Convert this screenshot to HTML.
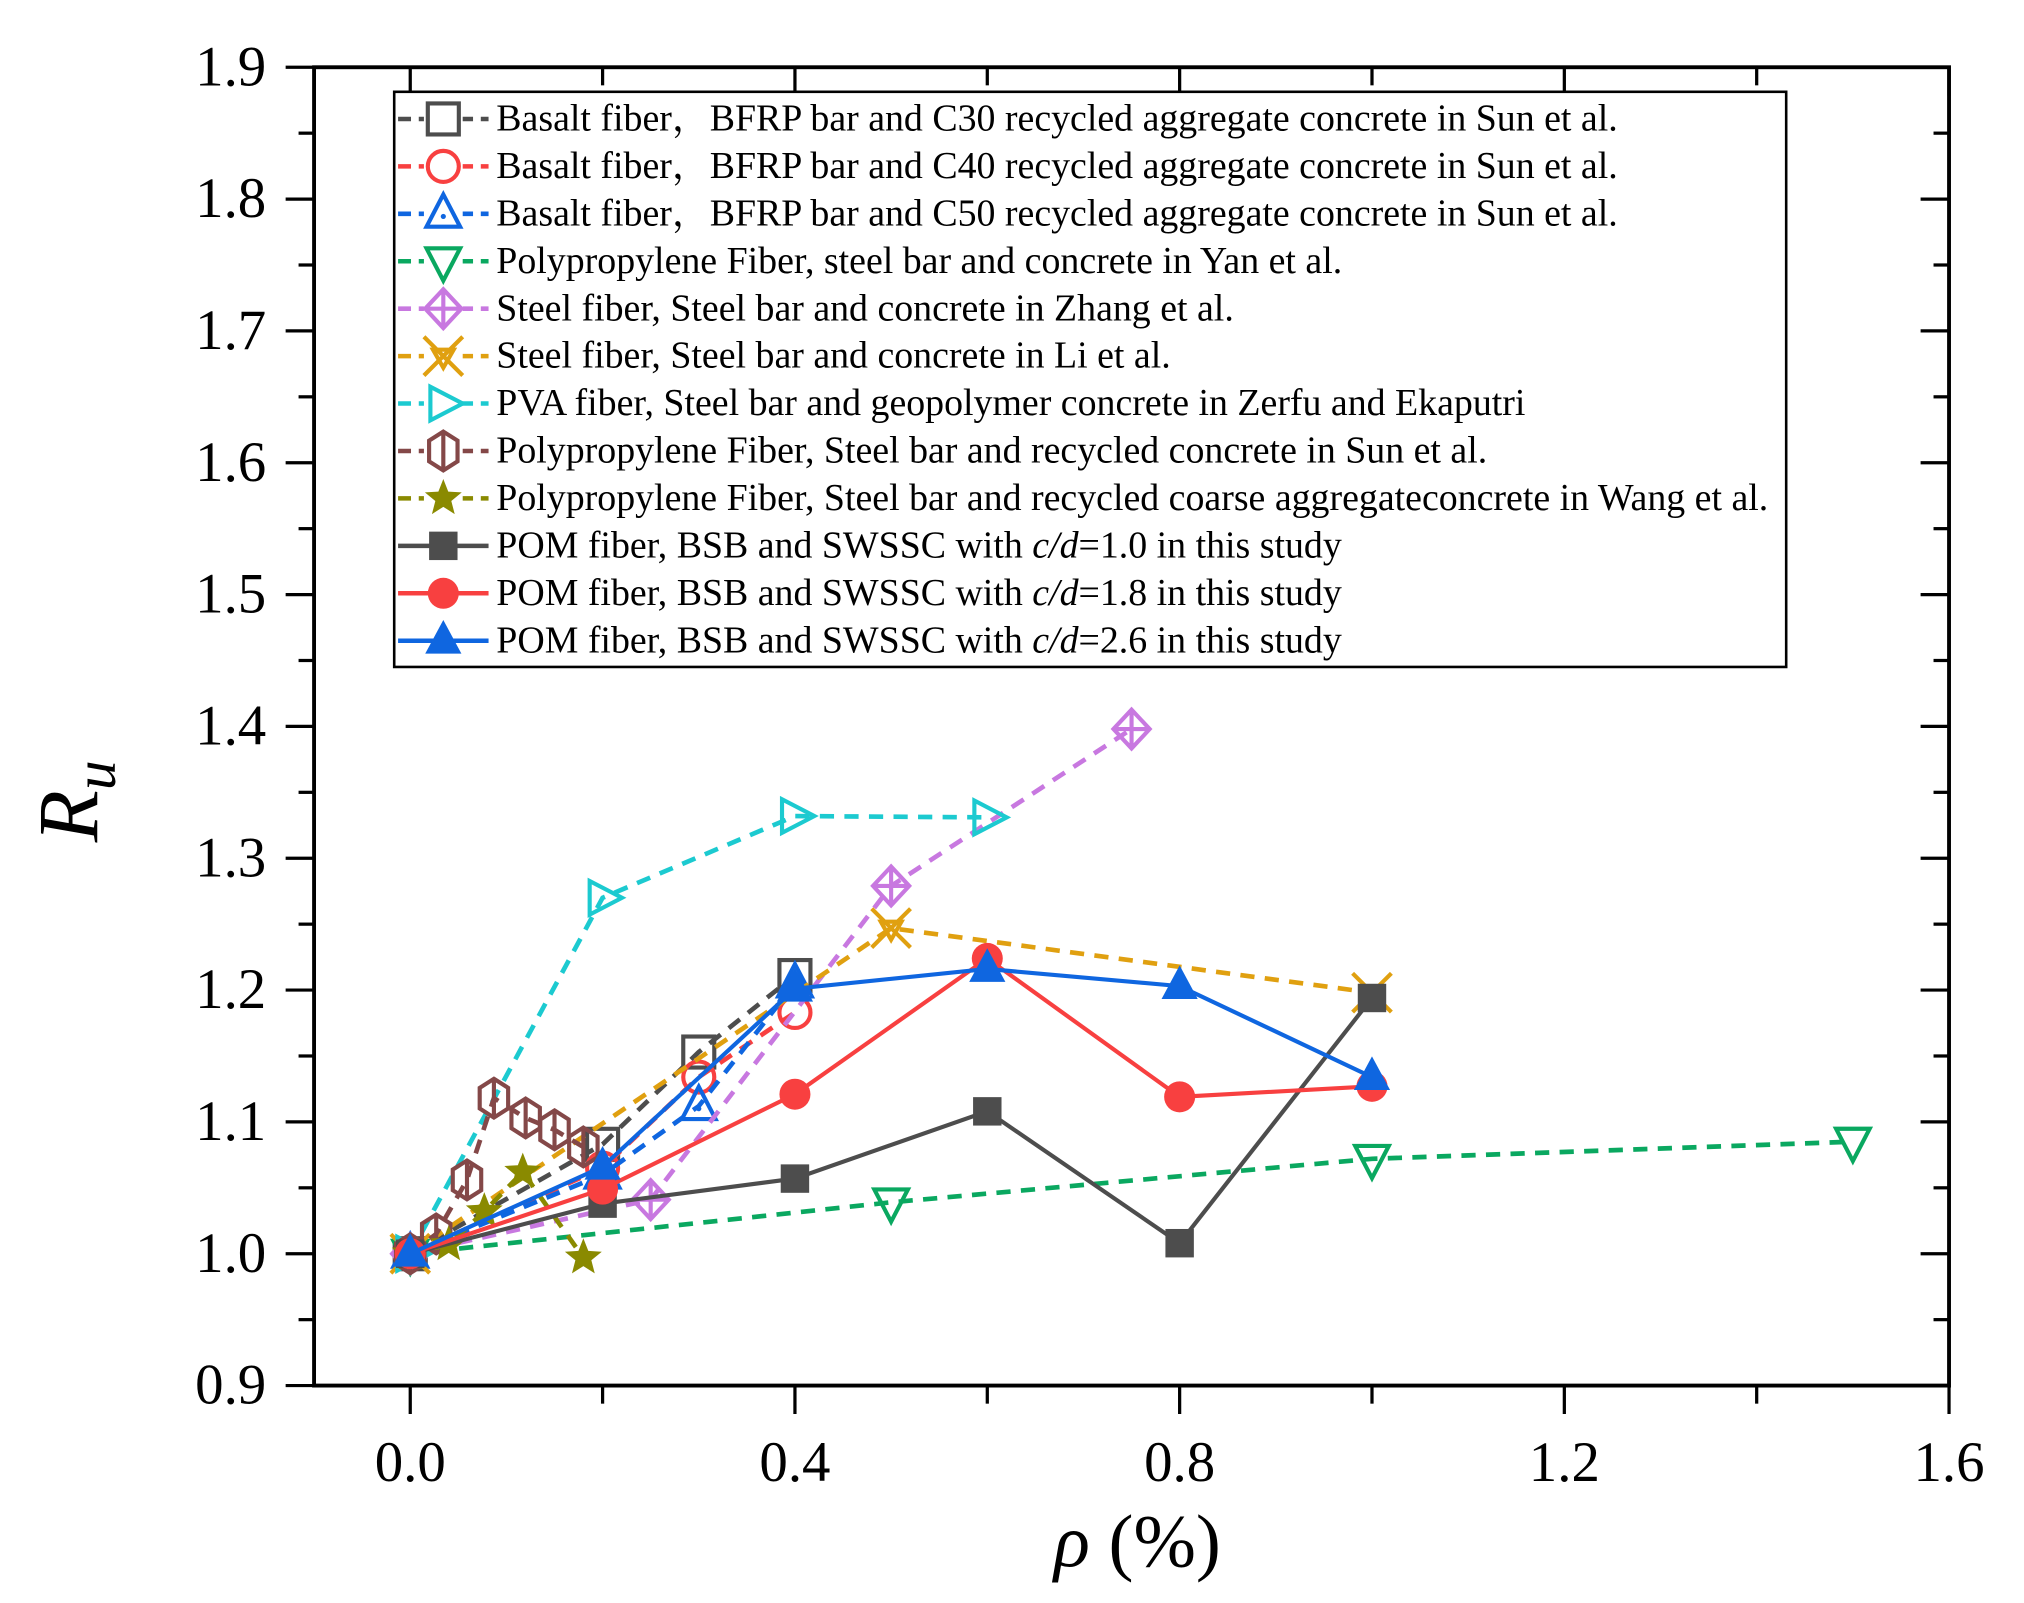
<!DOCTYPE html>
<html><head><meta charset="utf-8"><style>
html,body{margin:0;padding:0;background:#fff;}
svg{display:block;font-family:"Liberation Serif","Noto Serif CJK SC",serif;}
</style></head><body>
<svg id="chart" width="2024" height="1603" viewBox="0 0 1566 1240.2">
<g id="axes"></g>
<g id="plot"></g>
<g id="legend"></g>
<text x="75" y="620" font-size="66" font-style="italic" text-anchor="middle" transform="rotate(-90 75 620)">R<tspan font-size="46" dy="14">u</tspan></text>
<text x="880" y="1212" font-size="58" text-anchor="middle"><tspan font-style="italic">ρ</tspan> (%)</text>
</svg>
<script>
const xTicks=[0.0,0.4,0.8,1.2,1.6];
const yTicks=[0.9,1.0,1.1,1.2,1.3,1.4,1.5,1.6,1.7,1.8,1.9];
const names=["Basalt fiber，BFRP bar and C30 recycled aggregate concrete in Sun et al.","Basalt fiber，BFRP bar and C40 recycled aggregate concrete in Sun et al.","Basalt fiber，BFRP bar and C50 recycled aggregate concrete in Sun et al.","Polypropylene Fiber, steel bar and concrete in Yan et al.","Steel fiber, Steel bar and concrete in Zhang et al.","Steel fiber, Steel bar and concrete in Li et al.","PVA fiber, Steel bar and geopolymer concrete in Zerfu and Ekaputri","Polypropylene Fiber, Steel bar and recycled concrete in Sun et al.","Polypropylene Fiber, Steel bar and recycled  coarse aggregateconcrete in Wang et al.","POM fiber, BSB and SWSSC with c/d=1.0 in this study","POM fiber, BSB and SWSSC with c/d=1.8 in this study","POM fiber, BSB and SWSSC with c/d=2.6 in this study"];
const c30X=[0,0.2,0.3,0.4], c30Y=[1.0,1.083,1.153,1.211];
const c40X=[0,0.2,0.3,0.4], c40Y=[1.0,1.065,1.134,1.183];
const c50X=[0,0.2,0.3,0.4], c50Y=[1.0,1.06,1.112,1.205];
const yanX=[0,0.5,1.0,1.5], yanY=[1.0,1.039,1.072,1.085];
const zhangX=[0,0.25,0.5,0.75], zhangY=[1.0,1.041,1.279,1.398];
const liX=[0,0.5,1.0], liY=[1.0,1.247,1.198];
const pvaX=[0,0.2,0.4,0.6], pvaY=[1.0,1.27,1.332,1.331];
const sunX=[0,0.027,0.059,0.087,0.12,0.15,0.18], sunY=[1.0,1.015,1.056,1.118,1.103,1.094,1.081];
const wangX=[0,0.04,0.077,0.117,0.18], wangY=[1.0,1.007,1.032,1.062,0.997];
const pom10X=[0,0.2,0.4,0.6,0.8,1.0], pom10Y=[1.0,1.038,1.057,1.108,1.008,1.194];
const pom18X=[0,0.2,0.4,0.6,0.8,1.0], pom18Y=[1.0,1.049,1.121,1.224,1.119,1.127];
const pom26X=[0,0.2,0.4,0.6,0.8,1.0], pom26Y=[1.0,1.066,1.201,1.216,1.203,1.134];

const L=243,R=1508,T=52,B=1072,X0=-0.1,X1=1.6,Y0=0.9,Y1=1.9;
const sx=v=>L+(v-X0)/(X1-X0)*(R-L);
const sy=v=>B-(v-Y0)/(Y1-Y0)*(B-T);
const NS="http://www.w3.org/2000/svg";
function mk(tag,attrs,parent){const e=document.createElementNS(NS,tag);for(const k in attrs)e.setAttribute(k,attrs[k]);parent.appendChild(e);return e;}
const axes=document.getElementById('axes'),plot=document.getElementById('plot'),leg=document.getElementById('legend');
let fr=mk('rect',{x:L,y:T,width:R-L,height:B-T,fill:'none',stroke:'#000','stroke-width':3},axes);


for(let i=0;i<=8;i++){const v=i*0.2,x=sx(v),maj=i%2==0;
 let t=mk('line',{x1:x,x2:x,y1:B,y2:B+(maj?22:14),stroke:'#000','stroke-width':2.5},axes);
 
 let t2=mk('line',{x1:x,x2:x,y1:T,y2:T+(maj?22:14),stroke:'#000','stroke-width':2.5},axes);
 }
xTicks.forEach(v=>{let t=mk('text',{x:sx(v),y:1146,'font-size':44,'text-anchor':'middle'},axes);t.textContent=v.toFixed(1);
 });
for(let i=0;i<=20;i++){const v=0.9+i*0.05,y=sy(v),maj=i%2==0;
 let t=mk('line',{x1:L-(maj?22:12),x2:L,y1:y,y2:y,stroke:'#000','stroke-width':2.5},axes);
 
 let t2=mk('line',{x1:R-(maj?22:12),x2:R,y1:y,y2:y,stroke:'#000','stroke-width':2.5},axes);
 }
yTicks.forEach(v=>{let t=mk('text',{x:206,y:sy(v)+14,'font-size':44,'text-anchor':'end'},axes);t.textContent=v.toFixed(1);
 });

function marker(type,x,y,col,g){const s=13;let e;const w=3.2;
 switch(type){
 case 'sq':e=mk('rect',{x:x-s+1,y:y-s+1,width:2*s-2,height:2*s-2,fill:'none',stroke:col,'stroke-width':w},g);break;
 case 'sqf':e=mk('rect',{x:x-11,y:y-11,width:22,height:22,fill:col},g);break;
 case 'ci':e=mk('circle',{cx:x,cy:y,r:s-1,fill:'none',stroke:col,'stroke-width':w},g);break;
 case 'cif':e=mk('circle',{cx:x,cy:y,r:12,fill:col},g);break;
 case 'tri':e=mk('path',{d:`M${x},${y-15}L${x+13},${y+10}L${x-13},${y+10}Z`,fill:'none',stroke:col,'stroke-width':w},g);mk('circle',{cx:x,cy:y+2,r:2,fill:col},g);break;
 case 'trif':e=mk('path',{d:`M${x},${y-16}L${x+14},${y+10}L${x-14},${y+10}Z`,fill:col},g);break;
 case 'dtri':e=mk('path',{d:`M${x},${y+15}L${x+13},${y-10}L${x-13},${y-10}Z`,fill:'none',stroke:col,'stroke-width':w},g);break;
 case 'rtri':e=mk('path',{d:`M${x+15},${y}L${x-10},${y+13}L${x-10},${y-13}Z`,fill:'none',stroke:col,'stroke-width':w},g);break;
 case 'dia':e=mk('path',{d:`M${x},${y-15}L${x+14},${y}L${x},${y+15}L${x-14},${y}ZM${x},${y-15}V${y+15}M${x-14},${y}H${x+14}`,fill:'none',stroke:col,'stroke-width':w},g);break;
 case 'x':e=mk('path',{d:`M${x-15},${y-15}L${x+15},${y+15}M${x+15},${y-15}L${x-15},${y+15}M${x-8},${y-5}L${x+8},${y-5}L${x},${y+9}Z`,fill:'none',stroke:col,'stroke-width':w},g);break;
 case 'hex':e=mk('path',{d:`M${x},${y-15}L${x+11},${y-8}L${x+11},${y+8}L${x},${y+15}L${x-11},${y+8}L${x-11},${y-8}ZM${x},${y-15}V${y+15}`,fill:'none',stroke:col,'stroke-width':w},g);break;
 case 'star':{let p='';for(let k=0;k<10;k++){const a=-Math.PI/2+k*Math.PI/5,r=k%2?6.5:15;p+=(k?'L':'M')+(x+r*Math.cos(a))+','+(y+r*Math.sin(a));}e=mk('path',{d:p+'Z',fill:col},g);break;}
 }
 return e;}

const series=[
 {x:c30X,y:c30Y,col:'#4d4d4d',m:'sq',dash:true},
 {x:c40X,y:c40Y,col:'#f84040',m:'ci',dash:true},
 {x:c50X,y:c50Y,col:'#0f66e0',m:'tri',dash:true},
 {x:yanX,y:yanY,col:'#0aa860',m:'dtri',dash:true},
 {x:zhangX,y:zhangY,col:'#c878e0',m:'dia',dash:true},
 {x:liX,y:liY,col:'#e0a010',m:'x',dash:true},
 {x:pvaX,y:pvaY,col:'#1ccad0',m:'rtri',dash:true},
 {x:sunX,y:sunY,col:'#844848',m:'hex',dash:true},
 {x:wangX,y:wangY,col:'#8a8a00',m:'star',dash:true},
 {x:pom10X,y:pom10Y,col:'#4d4d4d',m:'sqf',dash:false},
 {x:pom18X,y:pom18Y,col:'#f84040',m:'cif',dash:false},
 {x:pom26X,y:pom26Y,col:'#0f66e0',m:'trif',dash:false}];
const snames=['c30','c40','c50','yan','zhang','li','pva','sun-pp','wang','pom-cd10','pom-cd18','pom-cd26'];
series.forEach((s,i)=>{const g=mk('g',{},plot);
 
 
 const pts=s.x.map((v,j)=>sx(v)+','+sy(s.y[j])).join(' ');
 const ln=mk('polyline',{points:pts,fill:'none',stroke:s.col,'stroke-width':s.dash?3.6:3.2,'stroke-dasharray':s.dash?'11,8':'none'},g);
 
 
 s.x.forEach((v,j)=>{const e=marker(s.m,sx(v),sy(s.y[j]),s.col,g);
  
  });
});
const lb=mk('rect',{x:305,y:71,width:1077,height:445,fill:'#fff',stroke:'#000','stroke-width':2},leg);


series.forEach((s,i)=>{const y=92+i*36.7;const g=mk('g',{},leg);
 
 
 mk('line',{x1:308,x2:378,y1:y,y2:y,stroke:s.col,'stroke-width':3.5,'stroke-dasharray':s.dash?'10,6':'none'},g);
 if(s.dash) mk('rect',{x:328,y:y-16,width:30,height:32,fill:'#fff'},g);
 marker(s.m,343,y,s.col,g);
 const t=mk('text',{x:384,y:y+9,'font-size':29.3},g);
 const nm=names[i];
 if(nm.includes('c/d')){const p=nm.split('c/d');t.appendChild(document.createTextNode(p[0]));const it=mk('tspan',{'font-style':'italic'},t);it.textContent='c/d';t.appendChild(document.createTextNode(p[1]));}
 else t.textContent=nm;
});
</script>
</body></html>
